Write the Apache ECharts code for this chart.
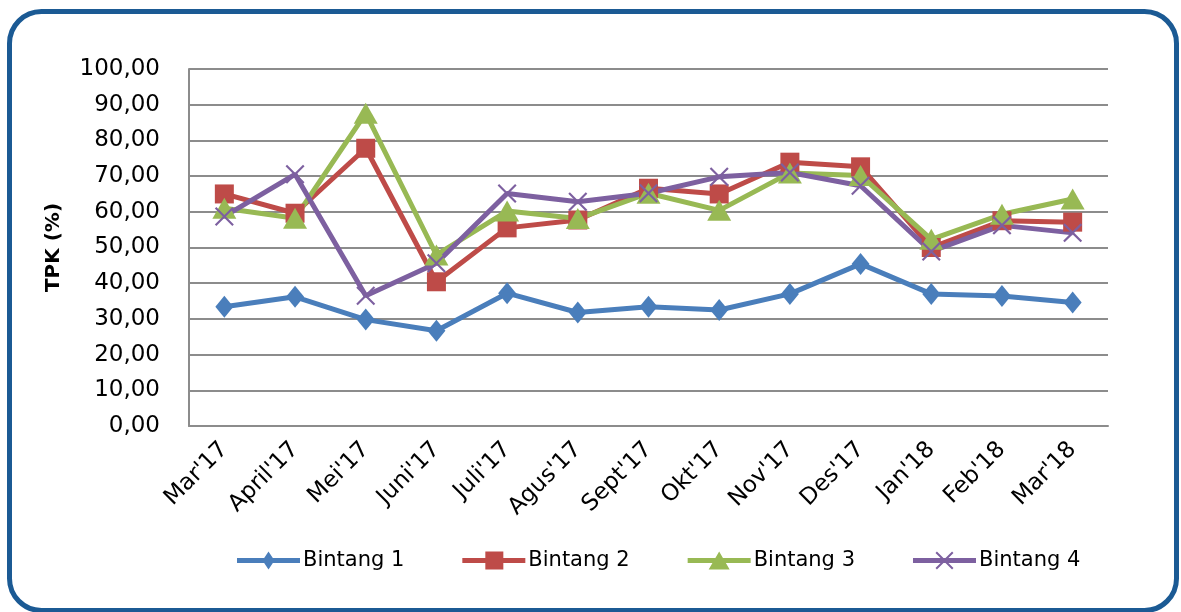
<!DOCTYPE html>
<html>
<head>
<meta charset="utf-8">
<script src="https://cdn.jsdelivr.net/npm/echarts@6/dist/echarts.min.js"></script>
<style>html,body{margin:0;padding:0;background:#fff;}#c{width:1181px;height:612px;}</style>
</head>
<body>
<div id="c"></div>
<script>
var categories = ["Mar'17","April'17","Mei'17","Juni'17","Juli'17","Agus'17","Sept'17","Okt'17","Nov'17","Des'17","Jan'18","Feb'18","Mar'18"];
var bintang1 = [33.4, 36.2, 29.8, 26.7, 37.2, 31.8, 33.4, 32.5, 37.0, 45.4, 37.0, 36.4, 34.6];
var bintang2 = [65.0, 59.6, 77.8, 40.4, 55.5, 57.7, 66.6, 65.0, 73.9, 72.6, 50.0, 57.5, 57.1];
var bintang3 = [61.0, 58.2, 87.6, 47.9, 60.2, 58.1, 65.2, 60.4, 70.9, 70.2, 52.3, 59.3, 63.6];
var bintang4 = [58.7, 70.5, 36.5, 45.6, 65.1, 62.8, 65.2, 69.8, 71.0, 67.3, 48.9, 56.2, 54.1];
var yTicks = [0, 10, 20, 30, 40, 50, 60, 70, 80, 90, 100];

var crossPath = 'path://M0,1.6L1.6,0L10,8.4L18.4,0L20,1.6L11.6,10L20,18.4L18.4,20L10,11.6L1.6,20L0,18.4L8.4,10Z';
var bar = 'M0,6.5L63,6.5L63,11.5L0,11.5Z';
var legendIcons = [
  'path://' + bar + 'M31.5,0L37.5,9L31.5,18L25.5,9Z',
  'path://' + bar + 'M23,0L41,0L41,18L23,18Z',
  'path://' + bar + 'M31.5,0L42,18L21,18Z',
  'path://' + bar + 'M22.5,1.44L23.94,0L31.5,7.56L39.06,0L40.5,1.44L32.94,9L40.5,16.56L39.06,18L31.5,10.44L23.94,18L22.5,16.56L30.06,9Z'
];
var font = 'DejaVu Sans';

function mk(name, data, color, symbol, size) {
  return {
    name: name, type: 'line', data: data,
    symbol: symbol, symbolSize: size,
    lineStyle: {color: color, width: 5},
    itemStyle: {color: color},
    emphasis: {disabled: true},
    animation: false
  };
}

var names = ['Bintang 1','Bintang 2','Bintang 3','Bintang 4'];
var chart = echarts.init(document.getElementById('c'), null, {renderer: 'canvas'});
chart.setOption({
  animation: false,
  grid: {left: 189, top: 69, right: 73, bottom: 186, containLabel: false},
  graphic: [{
    type: 'rect', z: 100,
    shape: {x: 9.5, y: 11.5, width: 1167, height: 599, r: 32},
    style: {fill: 'none', stroke: '#1b5a94', lineWidth: 5}
  }],
  legend: {
    left: 232, top: 545,
    itemWidth: 63, itemHeight: 18, itemGap: 58,
    textStyle: {fontFamily: font, fontSize: 21, color: '#000', padding: [0, 0, 0, -2]},
    data: names.map(function (n, i) { return {name: n, icon: legendIcons[i]}; })
  },
  xAxis: {
    type: 'category', data: categories, boundaryGap: true,
    axisLine: {lineStyle: {color: '#8c8c8c', width: 2}},
    axisTick: {show: false},
    axisLabel: {rotate: 45, fontFamily: font, fontSize: 23, color: '#000', margin: 20, interval: 0}
  },
  yAxis: {
    type: 'value', min: 0, max: 100, interval: 10,
    name: 'TPK (%)', nameLocation: 'middle', nameGap: 125, nameRotate: 90,
    nameTextStyle: {fontFamily: font, fontSize: 20, fontWeight: 'bold', color: '#000'},
    axisLine: {show: true, lineStyle: {color: '#8c8c8c', width: 2}},
    axisTick: {show: false},
    splitLine: {lineStyle: {color: '#8c8c8c', width: 2}},
    axisLabel: {
      fontFamily: font, fontSize: 23, color: '#000', margin: 29,
      formatter: function (v) { return yTicks.indexOf(v) >= 0 ? v.toFixed(2).replace('.', ',') : ''; }
    }
  },
  series: [
    mk(names[0], bintang1, '#4a7ebb', 'diamond', [18, 22]),
    mk(names[1], bintang2, '#be4b48', 'rect', 19),
    mk(names[2], bintang3, '#98b954', 'triangle', [24, 21]),
    mk(names[3], bintang4, '#7d60a0', crossPath, 19)
  ]
});
</script>
</body>
</html>
